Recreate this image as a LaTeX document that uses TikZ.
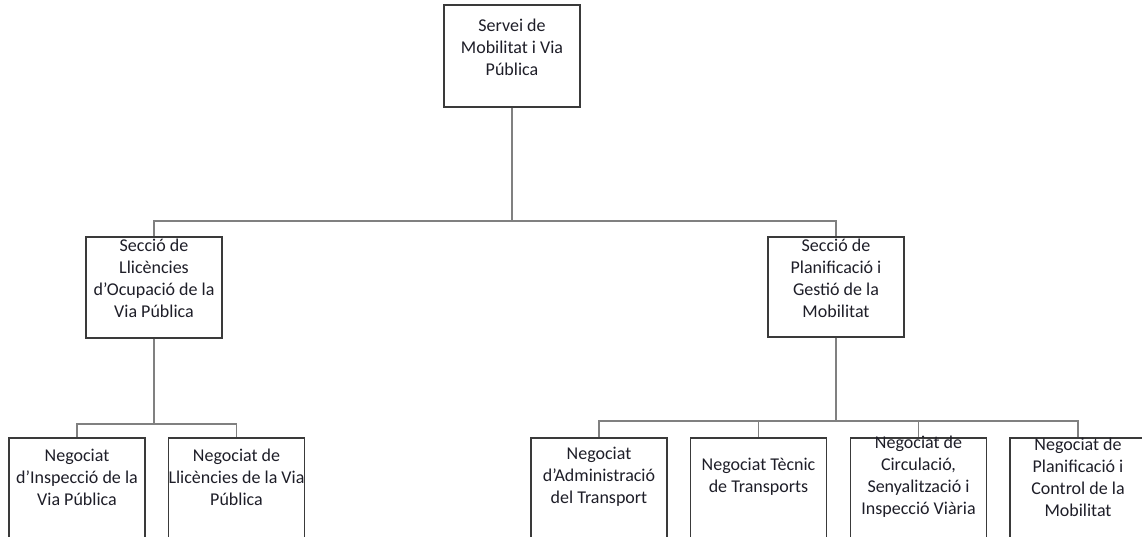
\documentclass[tikz,border=0pt]{standalone}
\usepackage{fontspec}
\setmainfont{Carlito}
\usepackage{tikz}
\usetikzlibrary{calc}

\definecolor{boxgray}{HTML}{3A3A3A}
\definecolor{linegray}{HTML}{808080}
\definecolor{txt}{HTML}{1E1E28}

\tikzset{
    unit/.style={draw=boxgray, line width=1.8pt, minimum width=136pt, inner sep=0pt},
    lbl/.style={font={\fontsize{18}{22}\selectfont}, align=center, text=txt, inner sep=0pt},
    link/.style={draw=linegray, line width=1.3pt}
}

\begin{document}
\begin{tikzpicture}[x=1pt, y=-1pt]
        \clip (0, 0) rectangle (1142, 536);
        \fill[white] (0, 0) rectangle (1142, 536);
        % servei
        \node[unit, minimum height=102pt] (servei) at (512, 56) {};
        \node[lbl] (tServei) at ([yshift=9pt]servei.center) {Servei de\\Mobilitat i Via\\Pública};
        % seccions
        \node[unit, minimum height=101pt] (secLlic) at (154, 287.5) {};
        \node[lbl] (tSecLlic) at ([yshift=9.5pt]secLlic.center) {Secció de\\Llicències\\d’Ocupació de la\\Via Pública};
        \node[unit, minimum height=100pt] (secPlan) at (836, 287) {};
        \node[lbl] (tSecPlan) at ([yshift=9pt]secPlan.center) {Secció de\\Planificació i\\Gestió de la\\Mobilitat};
        % negociats
        \node[unit, minimum height=200pt, anchor=north] (negInsp) at (77, 437) {};
        \node[unit, minimum height=200pt, anchor=north] (negLlic) at (236.5, 437) {};
        \node[unit, minimum height=200pt, anchor=north] (negAdm) at (599, 437) {};
        \node[unit, minimum height=200pt, anchor=north] (negTec) at (758.5, 437) {};
        \node[unit, minimum height=200pt, anchor=north] (negCirc) at (918.5, 437) {};
        \node[unit, minimum height=200pt, anchor=north] (negCtrl) at (1078, 437) {};
        \node[lbl] (tNegInsp) at ([yshift=-40pt]negInsp.north) {Negociat\\d’Inspecció de la\\Via Pública};
        \node[lbl] (tNegLlic) at ([yshift=-40pt]negLlic.north) {Negociat de\\Llicències de la Via\\Pública};
        \node[lbl] (tNegAdm) at ([yshift=-40pt]negAdm.north) {Negociat\\d’Administració\\del Transport};
        \node[lbl] (tNegTec) at ([yshift=-40pt]negTec.north) {Negociat Tècnic\\de Transports};
        \node[lbl] (tNegCirc) at ([yshift=-40pt]negCirc.north) {Negociat de\\Circulació,\\Senyalització i\\Inspecció Viària};
        \node[lbl] (tNegCtrl) at ([yshift=-40pt]negCtrl.north) {Negociat de\\Planificació i\\Control de la\\Mobilitat};
        % connectors
        \draw[link] (servei.south) -- ++(0, 113) -| (secLlic.north);
        \draw[link] (servei.south) -- ++(0, 113) -| (secPlan.north);
        \draw[link] (secLlic.south) -- ++(0, 85) -| (negInsp.north);
        \draw[link] (secLlic.south) -- ++(0, 85) -| (negLlic.north);
        \draw[link] (secPlan.south) -- ++(0, 83) -| (negAdm.north);
        \draw[link] (secPlan.south) -- ++(0, 83) -| (negTec.north);
        \draw[link] (secPlan.south) -- ++(0, 83) -| (negCirc.north);
        \draw[link] (secPlan.south) -- ++(0, 83) -| (negCtrl.north);
    \end{tikzpicture}
\end{document}
